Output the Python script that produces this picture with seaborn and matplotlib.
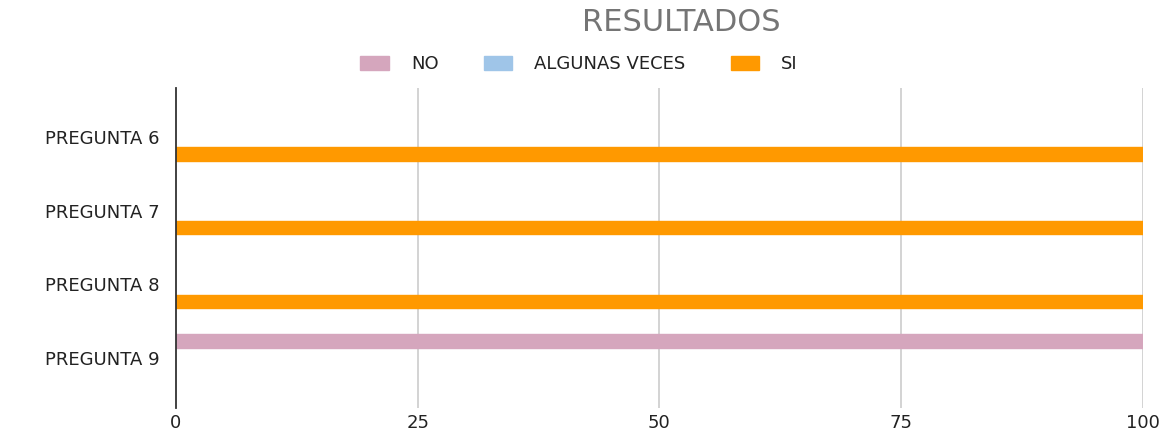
import matplotlib
matplotlib.use("Agg")
import matplotlib.pyplot as plt
import seaborn as sns
import pandas as pd
from matplotlib.patches import Patch

categories = ["PREGUNTA 6", "PREGUNTA 7", "PREGUNTA 8", "PREGUNTA 9"]
series = ["NO", "ALGUNAS VECES", "SI"]
no_vals = [0, 0, 0, 100]
algunas_vals = [0, 0, 0, 0]
si_vals = [100, 100, 100, 0]
x_ticks = [0, 25, 50, 75, 100]
colors = ["#d5a6bd", "#9fc5e8", "#ff9900"]

rows = []
for i, c in enumerate(categories):
    for s, vals in zip(series, [no_vals, algunas_vals, si_vals]):
        rows.append({"pregunta": c, "serie": s, "valor": vals[i]})
df = pd.DataFrame(rows)

sns.set_theme(style="white")
plt.rcParams['font.family'] = ['DejaVu Sans']

fig = plt.figure(figsize=(11.65, 4.3), dpi=100)
ax = fig.add_axes([0.151, 0.051, 0.830, 0.744])

sns.barplot(data=df, x="valor", y="pregunta", hue="serie", hue_order=series,
            order=categories, palette=colors, width=0.69, gap=0.22,
            orient="h", ax=ax, legend=False, saturation=1)

for p in ax.patches:
    if p.get_width() == 0:
        p.set_linewidth(0)
        continue
    p.set_edgecolor(p.get_facecolor())
    p.set_linewidth(1.0)
    p.set_joinstyle("round")

ax.set_xlim(0, 100)
ax.set_ylim(3.68, -0.665)
ax.set_xticks(x_ticks)
ax.set_xticklabels([str(t) for t in x_ticks], fontsize=13, color="#222222")
ax.tick_params(axis="y", labelsize=13, colors="#222222", length=0, pad=12)
ax.tick_params(axis="x", length=0, pad=4)
ax.set_xlabel("")
ax.set_ylabel("")
ax.grid(False)
for t in x_ticks[1:]:
    ax.axvline(t, color="#cccccc", linewidth=1.2, zorder=0)
for s in ["top", "right", "bottom"]:
    ax.spines[s].set_visible(False)
ax.spines["left"].set_color("#333333")
ax.spines["left"].set_linewidth(1.3)
ax.spines["left"].set_zorder(5)

fig.text(0.585, 0.948, "RESULTADOS", ha="center", va="center", fontsize=22, color="#757575")

handles = [Patch(facecolor=c, edgecolor=c, label=s) for c, s in zip(colors, series)]
fig.legend(handles=handles, loc="center", bbox_to_anchor=(0.497, 0.851), ncol=3,
           frameon=False, fontsize=13, handlelength=1.6, handleheight=0.8,
           columnspacing=2.5, handletextpad=1.2, labelcolor="#222222")

fig.savefig("out.png", dpi=100)
